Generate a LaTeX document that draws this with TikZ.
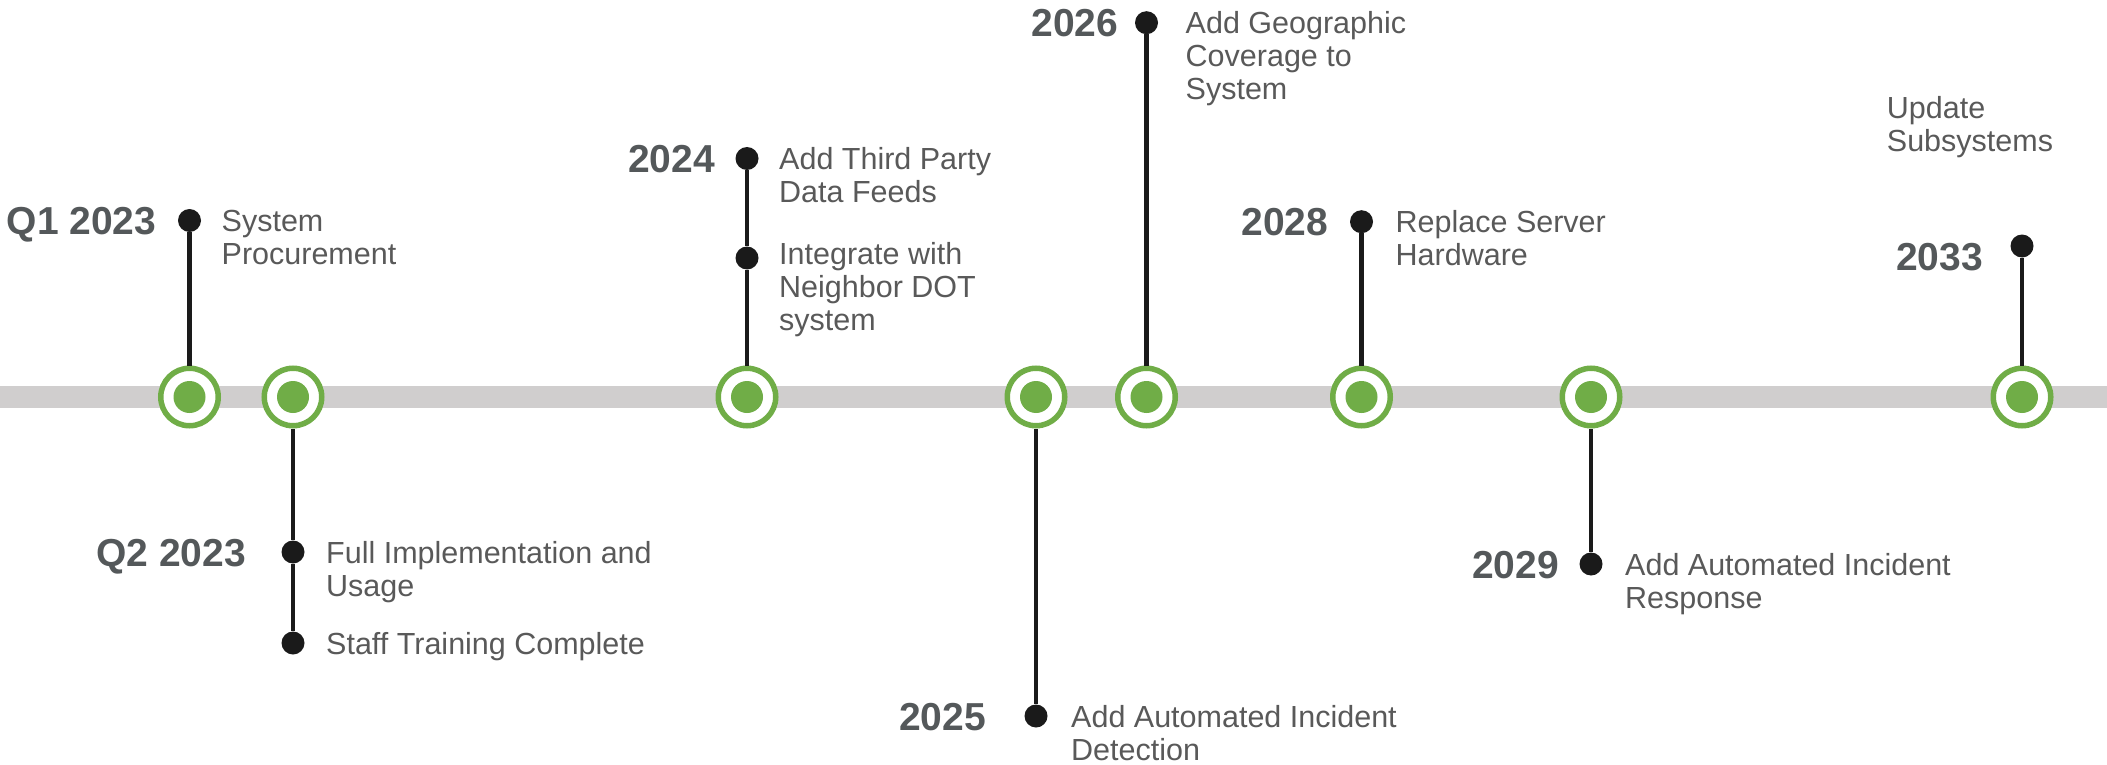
\documentclass[tikz,border=0pt]{standalone}
\usepackage{fontspec}
\setmainfont{Liberation Sans}
\usetikzlibrary{positioning}
\definecolor{tlgreen}{RGB}{112,173,71}
\definecolor{tlbar}{RGB}{208,206,206}
\definecolor{tlpin}{RGB}{26,26,26}
\definecolor{tlyear}{RGB}{84,88,90}
\definecolor{tltext}{RGB}{89,89,89}

\begin{document}
\begin{tikzpicture}[x=1pt, y=-1pt,
  mstone/.style={circle, draw=tlgreen, line width=5.5pt, fill=white, minimum size=57.5pt, inner sep=0pt,
    path picture={\fill[tlgreen] (path picture bounding box.center) circle (16pt);}},
  pindot/.style={circle, fill=tlpin, minimum size=23pt, inner sep=0pt},
  pin/.style={draw=tlpin, line width=4.5pt},
  year/.style={font=\fontsize{39}{42}\selectfont\bfseries, text=tlyear, inner sep=0pt, anchor=base east, yshift=-14pt},
  desc/.style={font=\fontsize{30.5}{33}\selectfont, text=tltext, align=left, inner sep=0pt, anchor=base west, yshift=-11pt},
  twolines/.style={yshift=-33pt},
  threelines/.style={yshift=-66pt}]
\useasboundingbox (0,0) rectangle (2107,765);

% timeline bar
\coordinate (tlstart) at (0,397);
\coordinate (tlend) at (2107,397);
\draw[tlbar, line width=22pt] (tlstart) -- (tlend);

% milestones
\node[mstone] (m1) at (189.5,397) {};
\node[mstone] (m2) at (293,397) {};
\node[mstone] (m3) at (747,397) {};
\node[mstone] (m4) at (1036,397) {};
\node[mstone] (m5) at (1146.5,397) {};
\node[mstone] (m6) at (1361.5,397) {};
\node[mstone] (m7) at (1591,397) {};
\node[mstone] (m8) at (2022,397) {};

% pin heads
\node[pindot] (d1) at (189.5,220.5) {};
\node[pindot] (d2a) at (293,552) {};
\node[pindot] (d2b) at (293,643) {};
\node[pindot] (d3a) at (747,158.5) {};
\node[pindot] (d3b) at (747,258) {};
\node[pindot] (d4) at (1036,716) {};
\node[pindot] (d5) at (1146.5,22.7) {};
\node[pindot] (d6) at (1361.5,221.7) {};
\node[pindot] (d7) at (1591,564) {};
\node[pindot] (d8) at (2022,246) {};

% pins
\draw[pin] (d1) -- (m1);
\draw[pin] (m2) -- (d2a) -- (d2b);
\draw[pin] (d3a) -- (d3b) -- (m3);
\draw[pin] (m4) -- (d4);
\draw[pin] (d5) -- (m5);
\draw[pin] (d6) -- (m6);
\draw[pin] (m7) -- (d7);
\draw[pin] (d8) -- (m8);

% years
\node[left=33pt of d1.center, year] (y1) {Q1 2023};
\node[left=47pt of d2a.center, year] (y2) {Q2 2023};
\node[left=32pt of d3a.center, year] (y3) {2024};
\node[left=50pt of d4.center, year] (y4) {2025};
\node[left=28pt of d5.center, year] (y5) {2026};
\node[left=33pt of d6.center, year] (y6) {2028};
\node[left=32pt of d7.center, year] (y7) {2029};
\node[left=39pt of d8.center, year, yshift=-10pt] (y8) {2033};

% descriptions
\node[right=32pt of d1.center, desc, twolines] (t1) {System\\Procurement};
\node[right=33pt of d2a.center, desc, twolines] (t2a) {Full Implementation and\\Usage};
\node[right=33pt of d2b.center, desc] (t2b) {Staff Training Complete};
\node[right=32pt of d3a.center, desc, twolines] (t3a) {Add Third Party\\Data Feeds};
\node[right=32pt of d3b.center, desc, threelines, yshift=5pt] (t3b) {Integrate with\\Neighbor DOT\\system};
\node[right=35pt of d4.center, desc, twolines] (t4) {Add Automated Incident\\Detection};
\node[right=39pt of d5.center, desc, threelines] (t5) {Add Geographic\\Coverage to\\System};
\node[right=34pt of d6.center, desc, twolines] (t6) {Replace Server\\Hardware};
\node[right=34pt of d7.center, desc, twolines] (t7) {Add Automated Incident\\Response};
\node[desc, twolines] (t8) at (1886.7,107.5) {Update\\Subsystems};
\end{tikzpicture}
\end{document}
